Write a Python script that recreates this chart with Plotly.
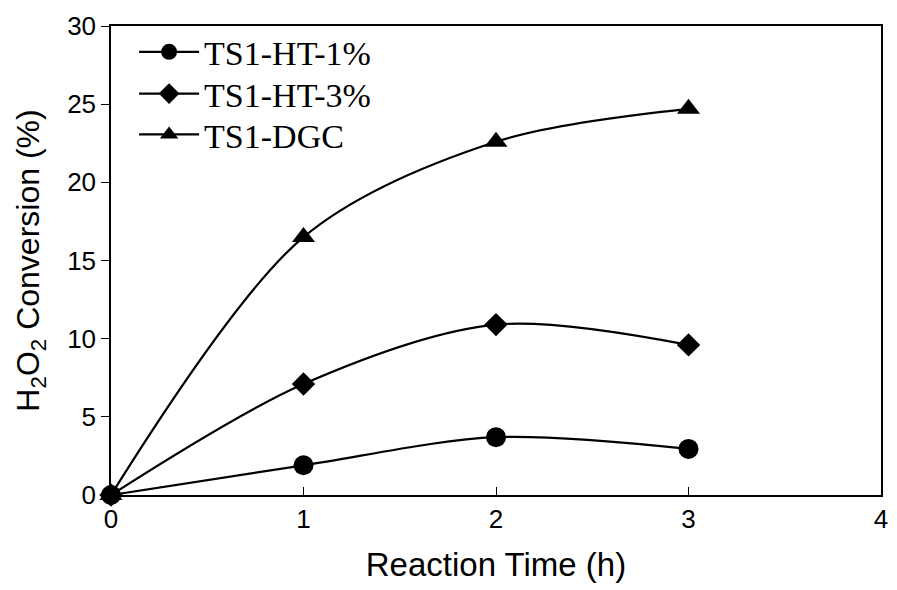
import plotly.graph_objects as go

time_h = [0, 1, 2, 3]
ts1_ht_1 = [0, 1.9, 3.7, 2.95]
ts1_ht_3 = [0, 7.1, 10.9, 9.6]
ts1_dgc = [0, 16.5, 22.6, 24.7]
series_names = ["TS1-HT-1%", "TS1-HT-3%", "TS1-DGC"]
x_ticks = [0, 1, 2, 3, 4]
y_ticks = [0, 5, 10, 15, 20, 25, 30]

fig = go.Figure()
symbols = ["circle", "diamond", "triangle-up"]
sizes = [20, 18, 20]
legend_ids = ["legend", "legend2", "legend3"]
legend_y = [0.944, 0.855, 0.768]
for name, vals, sym, sz, lg in zip(series_names, [ts1_ht_1, ts1_ht_3, ts1_dgc], symbols, sizes, legend_ids):
    fig.add_trace(go.Scatter(
        x=time_h, y=vals, name=name, mode="lines+markers",
        line=dict(color="black", width=2.2, shape="spline", smoothing=0.9),
        marker=dict(symbol=sym, size=sz, color="black"),
        cliponaxis=False, legend=lg,
    ))

legend_style = dict(x=0.03, xanchor="left", yanchor="middle",
                    font=dict(family="Liberation Serif, Times New Roman", size=34, color="black"),
                    bgcolor="rgba(0,0,0,0)", itemwidth=60)
fig.update_layout(
    width=897, height=590,
    paper_bgcolor="white", plot_bgcolor="white",
    margin=dict(l=111, r=9, t=26, b=95),
    font=dict(family="Liberation Sans, Arial", color="black", size=26),
    showlegend=True,
    legend=dict(y=legend_y[0], **legend_style),
    legend2=dict(y=legend_y[1], **legend_style),
    legend3=dict(y=legend_y[2], **legend_style),
)
fig.update_xaxes(
    range=[0, 4], tickvals=x_ticks, ticks="inside", ticklen=8, tickcolor="black",
    showline=True, linecolor="black", linewidth=1.5, mirror=True, showgrid=False, zeroline=False,
    title=dict(text="Reaction Time (h)", font=dict(size=33), standoff=20),
    tickfont=dict(size=26), ticklabeloverflow="allow",
)
fig.update_yaxes(
    range=[0, 30], tickvals=y_ticks, ticks="outside", ticklen=8, tickcolor="black",
    showline=True, linecolor="black", linewidth=1.5, mirror=True, showgrid=False, zeroline=False,
    title=dict(text="H<sub>2</sub>O<sub>2</sub> Conversion (%)", font=dict(size=32), standoff=18),
    tickfont=dict(size=26), ticklabeloverflow="allow",
)
fig.write_html("out.html", config={"displayModeBar": False},
               post_script="document.body.style.margin='0';")
